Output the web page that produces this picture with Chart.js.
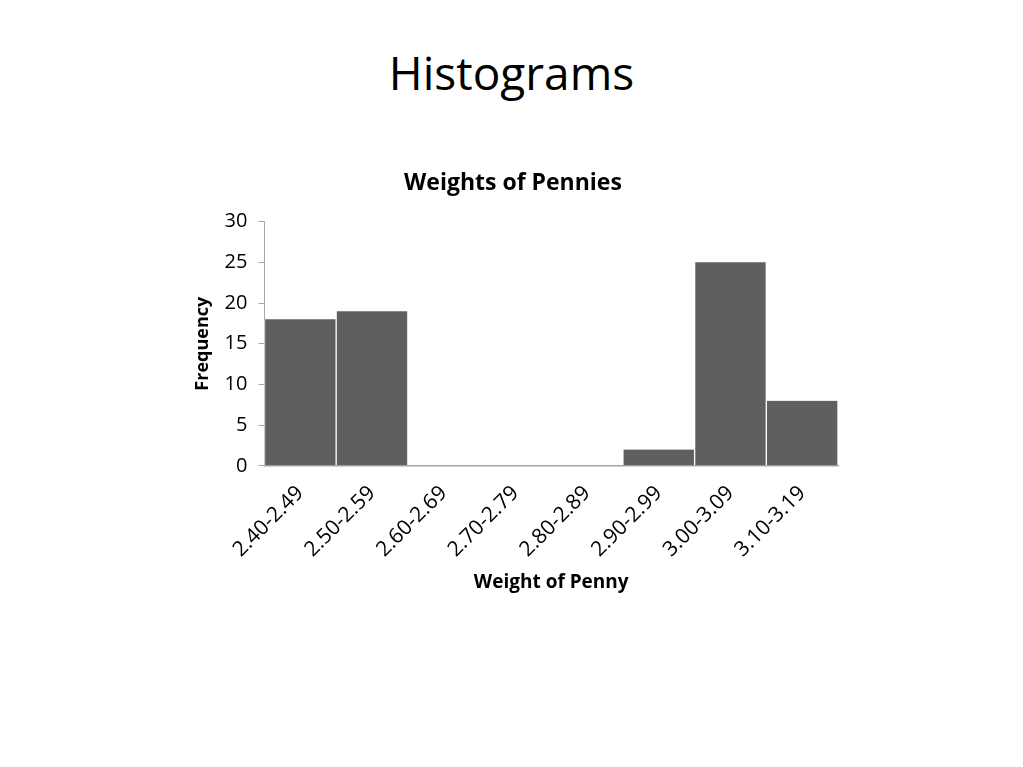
<!DOCTYPE html>
<html>
<head>
<meta charset="utf-8">
<script src="https://cdn.jsdelivr.net/npm/chart.js@4/dist/chart.umd.min.js"></script>
<style>
  html, body { margin: 0; padding: 0; background: #fff; }
  body { width: 1023px; height: 767px; position: relative; overflow: hidden; font-family: 'Open Sans', sans-serif; }
  h1 { position: absolute; top: 40px; left: 0; width: 1023px; margin: 0; text-align: center; font-weight: normal; font-size: 46px; line-height: 64px; color: #000; }
  #wrap { position: absolute; left: 0; top: 0; width: 1023px; height: 767px; }
</style>
</head>
<body>
<h1>Histograms</h1>
<div id="wrap"><canvas id="chart"></canvas></div>
<script>
const bins = ['2.40-2.49', '2.50-2.59', '2.60-2.69', '2.70-2.79', '2.80-2.89', '2.90-2.99', '3.00-3.09', '3.10-3.19']
const frequency = [18, 19, 0, 0, 0, 2, 25, 8]

const font = '"Open Sans", sans-serif'

new Chart(document.getElementById('chart'), {
  type: 'bar',
  data: {
    labels: bins,
    datasets: [
      {
        label: 'Frequency',
        data: frequency,
        backgroundColor: '#5f5f5f',
        borderColor: '#ffffff',
        borderWidth: { left: 1, right: 1 },
        borderSkipped: 'bottom',
        categoryPercentage: 1.0,
        barPercentage: 1.0,
      },
    ],
  },
  options: {
    responsive: true,
    maintainAspectRatio: false,
    animation: false,
    layout: {
      padding: { left: 188, right: 185, top: 170, bottom: 173 },
    },
    plugins: {
      legend: { display: false },
      tooltip: { enabled: false },
      title: {
        display: true,
        text: 'Weights of Pennies',
        color: '#000',
        font: { family: font, size: 23, weight: 'bold' },
        padding: { top: 0, bottom: 24 },
      },
    },
    scales: {
      x: {
        grid: { display: true, drawOnChartArea: false, drawTicks: false },
        border: { display: true, color: '#a6a6a6', width: 1.5 },
        ticks: {
          color: '#000',
          font: { family: font, size: 21 },
          minRotation: 45,
          maxRotation: 45,
          padding: 15,
        },
        title: {
          display: true,
          text: 'Weight of Penny',
          color: '#000',
          font: { family: font, size: 19, weight: 'bold' },
          padding: { top: -6, bottom: 0 },
        },
      },
      y: {
        min: 0,
        max: 30,
        ticks: {
          stepSize: 5,
          color: '#000',
          font: { family: font, size: 20 },
          padding: 11,
        },
        grid: { display: true, drawOnChartArea: false, drawTicks: true, tickLength: 6, color: '#a6a6a6' },
        border: { display: true, color: '#a6a6a6', width: 1 },
        title: {
          display: true,
          text: 'Frequency',
          color: '#000',
          font: { family: font, size: 18, weight: 'bold' },
          padding: { bottom: 0 },
        },
      },
    },
  },
})
</script>
</body>
</html>
